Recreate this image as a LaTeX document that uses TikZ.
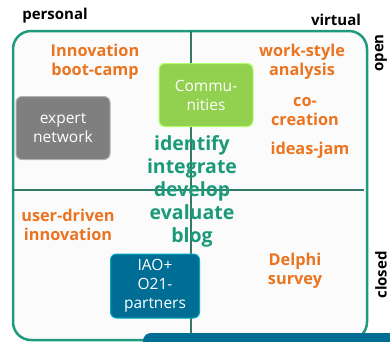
\documentclass[tikz,border=0pt]{standalone}
\usepackage{fontspec}
\setmainfont{Open Sans}
\definecolor{frameteal}{HTML}{1E9A7C}
\definecolor{divteal}{HTML}{357A68}
\definecolor{labelorange}{HTML}{EA7420}
\definecolor{verbteal}{HTML}{1A9A78}
\definecolor{boxgray}{HTML}{7F7F7F}
\definecolor{boxgreen}{HTML}{92D050}
\definecolor{boxblue}{HTML}{006E94}
\tikzset{
  axislabel/.style={font=\bfseries\fontsize{15}{17}\selectfont, text=black, inner sep=0pt},
  method/.style={font=\bfseries\fontsize{16.3}{19}\selectfont, text=labelorange, align=center, inner sep=0pt},
  actor/.style={rounded corners=6pt, font=\fontsize{15.5}{19}\selectfont, text=white, align=center,
    minimum width=94pt, minimum height=63pt, inner sep=2pt, line width=1pt},
}
\begin{document}
\begin{tikzpicture}[x=1pt,y=-1pt]
\useasboundingbox (0,0) rectangle (390,341);
% frame and quadrants
\draw[frameteal, line width=2.5pt, fill=gray!3, rounded corners=18pt] (13,31) rectangle (367,340);
\draw[divteal, line width=2pt] (191,31) -- (191,334);
\draw[divteal, line width=2pt] (13,190) -- (364,190);
% axis labels
\node[axislabel] (personal) at (55,16) {personal};
\node[axislabel] (virtual) at (336,20) {virtual};
\node[axislabel, rotate=90] (open) at (381,53) {open};
\node[axislabel, rotate=90] (closed) at (381,275) {closed};
% methods
\node[method] (bootcamp) at (95,62) {Innovation\\boot-camp};
\node[method] (workstyle) at (302,62) {work-style\\analysis};
\node[method] (cocreation) at (305,112) {co-\\creation};
\node[method] (ideasjam) at (310,150) {ideas-jam};
\node[method] (userdriven) at (68,225) {user-driven\\innovation};
\node[method] (delphi) at (295,271) {Delphi\\survey};
% actors
\node[actor, fill=boxgray, draw=gray!60] (expert) at (63,128) {expert\\network};
\node[actor, fill=boxgreen, draw=green!50!yellow!60] (communities) at (206,95) {Commu-\\nities};
\node[actor, fill=boxblue, draw=boxblue!60!cyan, minimum width=89pt, minimum height=64pt] (partners) at (155,286) {IAO+\\O21-\\partners};
% activities
\node[font=\bfseries\fontsize{19.5}{23}\selectfont, text=verbteal, align=center, inner sep=0pt] (steps) at (192,191)
  {identify\\integrate\\develop\\evaluate\\blog};
% bottom bar
\fill[boxblue, rounded corners=8pt] (143,333) rectangle (400,360);
\end{tikzpicture}
\end{document}
